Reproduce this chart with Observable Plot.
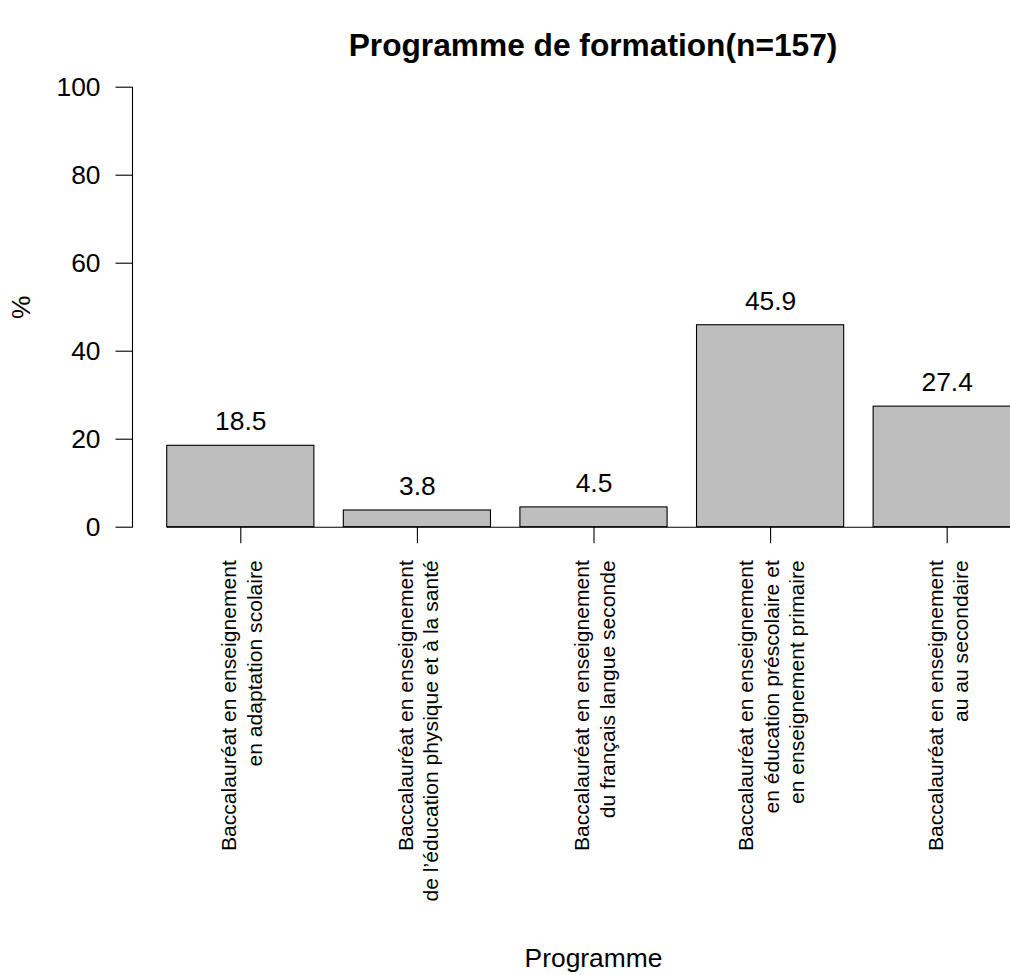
<!DOCTYPE html>
<html><head><meta charset="utf-8">
<script src="https://cdn.jsdelivr.net/npm/d3@7"></script>
<script src="https://cdn.jsdelivr.net/npm/@observablehq/plot@0.6"></script>
<style>
html,body{margin:0;padding:0;background:#fff;overflow:hidden;}
#wrap{position:relative;width:1010px;height:975px;font-family:"Liberation Sans",Arial,Helvetica,sans-serif;}
#title{position:absolute;left:176px;width:834px;top:29px;height:32px;line-height:32px;text-align:center;font-weight:bold;font-size:31.7px;color:#000;white-space:nowrap;}
#chart{position:absolute;left:0;top:70px;}
#chart svg{overflow:hidden;}
</style></head><body>
<div id="wrap"><div id="title"></div><div id="chart"></div></div>
<script>
const titleText = "Programme de formation(n=157)";
const xLabel = "Programme";
const yLabel = "%";
const categories = [
  "Baccalauréat en enseignement\nen adaptation scolaire",
  "Baccalauréat en enseignement\nde l’éducation physique et à la santé",
  "Baccalauréat en enseignement\ndu français langue seconde",
  "Baccalauréat en enseignement\nen éducation préscolaire et\nen enseignement primaire",
  "Baccalauréat en enseignement\nau au secondaire"
];
const values = [18.5, 3.8, 4.5, 45.9, 27.4];
const yTicks = [0, 20, 40, 60, 80, 100];

document.getElementById("title").textContent = titleText;
const data = categories.map((c, i) => ({category: c, value: values[i]}));
const fmt = d3.format(".1f");

const plot = Plot.plot({
  width: 1010, height: 905,
  marginLeft: 132, marginRight: 0, marginTop: 16.7, marginBottom: 448.3,
  style: {fontFamily: '"Liberation Sans", Arial, Helvetica, sans-serif', fontSize: "26.4px", color: "black", background: "white", overflow: "hidden"},
  x: {domain: categories, range: [152, 1035], paddingInner: 1/6, paddingOuter: 1/12, align: 0.5, round: false, axis: null},
  y: {domain: [0, 100], axis: null},
  marks: [
    Plot.barY(data, {x: "category", y: "value", fill: "#bebebe", stroke: "black", strokeWidth: 1.1}),
    Plot.ruleY([{a: categories[0], b: categories[categories.length - 1], y: 0}], {y: "y", x1: "a", x2: "b", stroke: "black", strokeWidth: 1.1}),
    Plot.axisX({tickSize: 16.5, tickFormat: () => "", label: null, strokeWidth: 1.1}),
    Plot.text(data, {x: "category", y: () => 0, text: "category", rotate: -90, textAnchor: "end", lineAnchor: "middle", lineHeight: 1.2, fontSize: 21.1, dy: 33}),
    Plot.text(data, {x: "category", y: "value", text: d => fmt(d.value), dy: -24, fontSize: 26.4, textAnchor: "middle", lineAnchor: "middle"}),
    Plot.axisY({ticks: yTicks, tickSize: 16.5, tickPadding: 15.5, label: null, fontSize: 26.4, strokeWidth: 1.1}),
    Plot.frame({anchor: "left", strokeWidth: 1.1}),
    Plot.text([yLabel], {frameAnchor: "left", text: d => d, rotate: -90, dx: -111, fontSize: 26.4, textAnchor: "middle", lineAnchor: "middle"}),
    Plot.text([xLabel], {frameAnchor: "bottom", text: d => d, dx: 22, dy: 431, fontSize: 26.4, textAnchor: "middle", lineAnchor: "middle"})
  ]
});
document.getElementById("chart").appendChild(plot);
</script>
</body></html>
